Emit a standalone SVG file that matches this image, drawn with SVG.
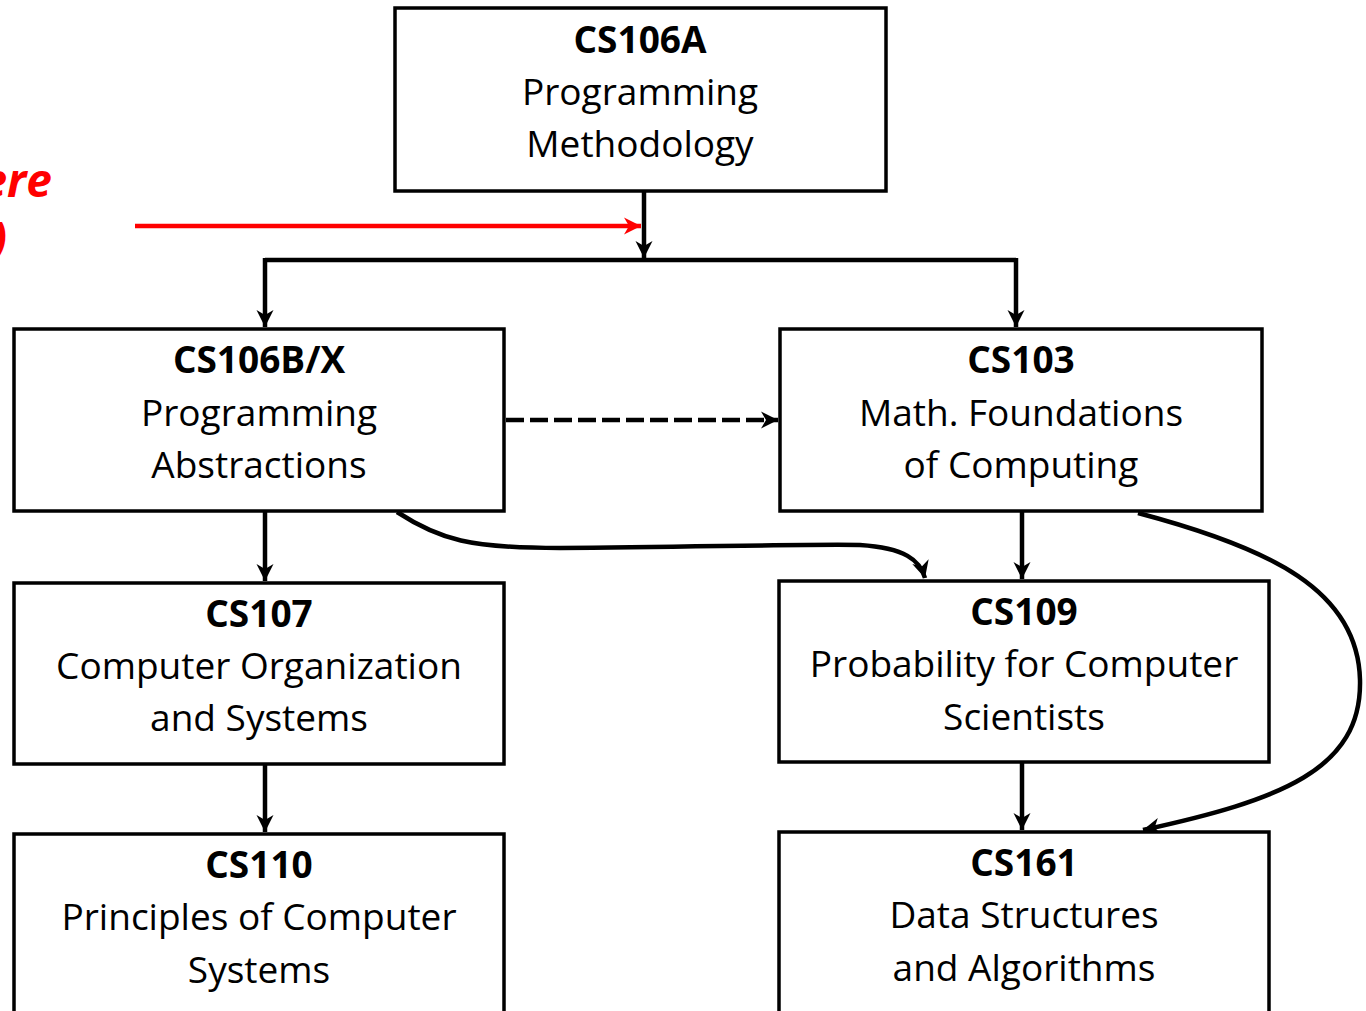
<svg xmlns="http://www.w3.org/2000/svg" width="1366" height="1011" viewBox="0 0 1366 1011">
<defs>
<style>
.box{fill:#fff;stroke:#000;stroke-width:3.5}
.t{font-family:"Open Sans","Noto Sans","DejaVu Sans",sans-serif;font-size:37px;text-anchor:middle;fill:#000}
.b{font-weight:bold}
.c{fill:none;stroke:#000;stroke-width:4.5}
.red{font-family:"Open Sans","Noto Sans",sans-serif;font-size:46px;font-weight:bold;font-style:italic;fill:#ff0000;text-anchor:end}
</style>
<marker id="ah" markerUnits="userSpaceOnUse" viewBox="-18 -10 19 20" refX="0" refY="0" markerWidth="19" markerHeight="20" orient="auto">
<path d="M0,0 L-17,-8.5 L-12,0 L-17,8.5 Z" fill="#000"/>
</marker>
<marker id="ahr" markerUnits="userSpaceOnUse" viewBox="-18 -10 19 20" refX="0" refY="0" markerWidth="19" markerHeight="20" orient="auto">
<path d="M0,0 L-17,-8.5 L-12,0 L-17,8.5 Z" fill="#ff0000"/>
</marker>
</defs>
<rect width="1366" height="1011" fill="#fff"/>

<g id="connectors">
<path class="c" d="M644,191 V258" marker-end="url(#ah)"/>
<path class="c" d="M265,260 H1016"/>
<path class="c" d="M265,258 V327" marker-end="url(#ah)"/>
<path class="c" d="M1016,258 V327" marker-end="url(#ah)"/>
<path class="c" d="M506,420 H778" stroke-dasharray="18,6" marker-end="url(#ah)"/>
<path class="c" d="M265,511 V581" marker-end="url(#ah)"/>
<path class="c" d="M1022,511 V579" marker-end="url(#ah)"/>
<path class="c" d="M265,764 V832" marker-end="url(#ah)"/>
<path class="c" d="M1022,762 V830" marker-end="url(#ah)"/>
<path class="c" d="M397,512 C440,540 470,548 560,548 C700,547 800,544 860,545 C905,548 920,560 925,578" marker-end="url(#ah)"/>
<path class="c" d="M1138,513 C1270,548 1358,590 1360,680 C1362,770 1280,800 1143,830" marker-end="url(#ah)"/>
<path d="M135,226 H641" fill="none" stroke="#ff0000" stroke-width="4.5" marker-end="url(#ahr)"/>
</g>

<g id="note">
<text class="red" x="52" y="197">ere</text>
<text class="red" x="7" y="255">)</text>
</g>

<g id="cs106a">
<rect class="box" x="395" y="8" width="491" height="183"/>
<text class="t b" x="640" y="53">CS106A</text>
<text class="t" x="640" y="105">Programming</text>
<text class="t" x="640" y="157">Methodology</text>
</g>

<g id="cs106b">
<rect class="box" x="14" y="329" width="490" height="182"/>
<text class="t b" x="259" y="373">CS106B/X</text>
<text class="t" x="259" y="426">Programming</text>
<text class="t" x="259" y="478">Abstractions</text>
</g>

<g id="cs103">
<rect class="box" x="780" y="329" width="482" height="182"/>
<text class="t b" x="1021" y="373">CS103</text>
<text class="t" x="1021" y="426">Math. Foundations</text>
<text class="t" x="1021" y="478">of Computing</text>
</g>

<g id="cs107">
<rect class="box" x="14" y="583" width="490" height="181"/>
<text class="t b" x="259" y="627">CS107</text>
<text class="t" x="259" y="679">Computer Organization</text>
<text class="t" x="259" y="731">and Systems</text>
</g>

<g id="cs109">
<rect class="box" x="779" y="581" width="490" height="181"/>
<text class="t b" x="1024" y="625">CS109</text>
<text class="t" x="1024" y="677">Probability for Computer</text>
<text class="t" x="1024" y="730">Scientists</text>
</g>

<g id="cs110">
<rect class="box" x="14" y="834" width="490" height="200"/>
<text class="t b" x="259" y="878">CS110</text>
<text class="t" x="259" y="930">Principles of Computer</text>
<text class="t" x="259" y="983">Systems</text>
</g>

<g id="cs161">
<rect class="box" x="779" y="832" width="490" height="200"/>
<text class="t b" x="1024" y="876">CS161</text>
<text class="t" x="1024" y="928">Data Structures</text>
<text class="t" x="1024" y="981">and Algorithms</text>
</g>
</svg>
